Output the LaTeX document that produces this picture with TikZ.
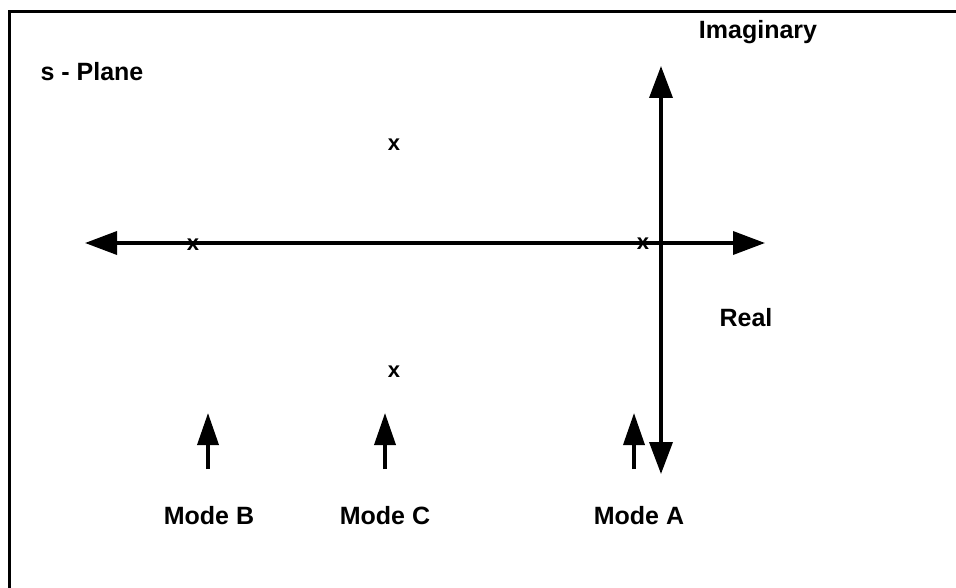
\documentclass[tikz,border=0pt]{standalone}
\usepackage{fontspec}
\setmainfont{Liberation Sans}
\usetikzlibrary{arrows.meta}
\begin{document}
\begin{tikzpicture}[x=1pt,y=-1pt,
  lbl/.style={font=\fontsize{25}{28}\selectfont\bfseries, inner sep=0pt},
  pole/.style={font=\fontsize{22}{24}\selectfont\bfseries, inner sep=0pt},
  axis/.style={line width=3.6pt, {Triangle[length=32pt,width=23pt]}-{Triangle[length=32pt,width=23pt]}},
  modearrow/.style={line width=3.6pt, -{Triangle[length=32pt,width=21pt]}},
  frame/.style={line width=3.5pt}]
\useasboundingbox (0,0) rectangle (956,588);
% frame (right and bottom edges lie outside the picture)
\coordinate (fTR) at (975,11.5);
\coordinate (fTL) at (9.5,11.5);
\coordinate (fBL) at (9.5,600);
\draw[frame] (fTR) -- (fTL) -- (fBL);
% axes
\coordinate (hL) at (85,243);
\coordinate (hR) at (765,243);
\coordinate (vT) at (661,66);
\coordinate (vB) at (661,474);
\draw[axis] (hL) -- (hR);
\draw[axis] (vB) -- (vT);
% poles
\node[pole] (p1) at (193,245) {x};
\node[pole] (p2) at (643,244) {x};
\node[pole] (p3) at (394,145) {x};
\node[pole] (p4) at (394,372) {x};
% labels
\node[lbl] (splane) at (92,72) {s - Plane};
\node[lbl] (imag) at (758,32) {Imaginary};
\node[lbl] (real) at (746,318) {Real};
\node[lbl] (modeB) at (209,516) {Mode B};
\node[lbl] (modeC) at (385,516) {Mode C};
\node[lbl] (modeA) at (639,516) {Mode A};
% mode arrows
\coordinate (aB) at (208,413);
\coordinate (aC) at (385,413);
\coordinate (aA) at (634,413);
\coordinate (bB) at (208,469);
\coordinate (bC) at (385,469);
\coordinate (bA) at (634,469);
\draw[modearrow] (bB) -- (aB);
\draw[modearrow] (bC) -- (aC);
\draw[modearrow] (bA) -- (aA);
\end{tikzpicture}
\end{document}
